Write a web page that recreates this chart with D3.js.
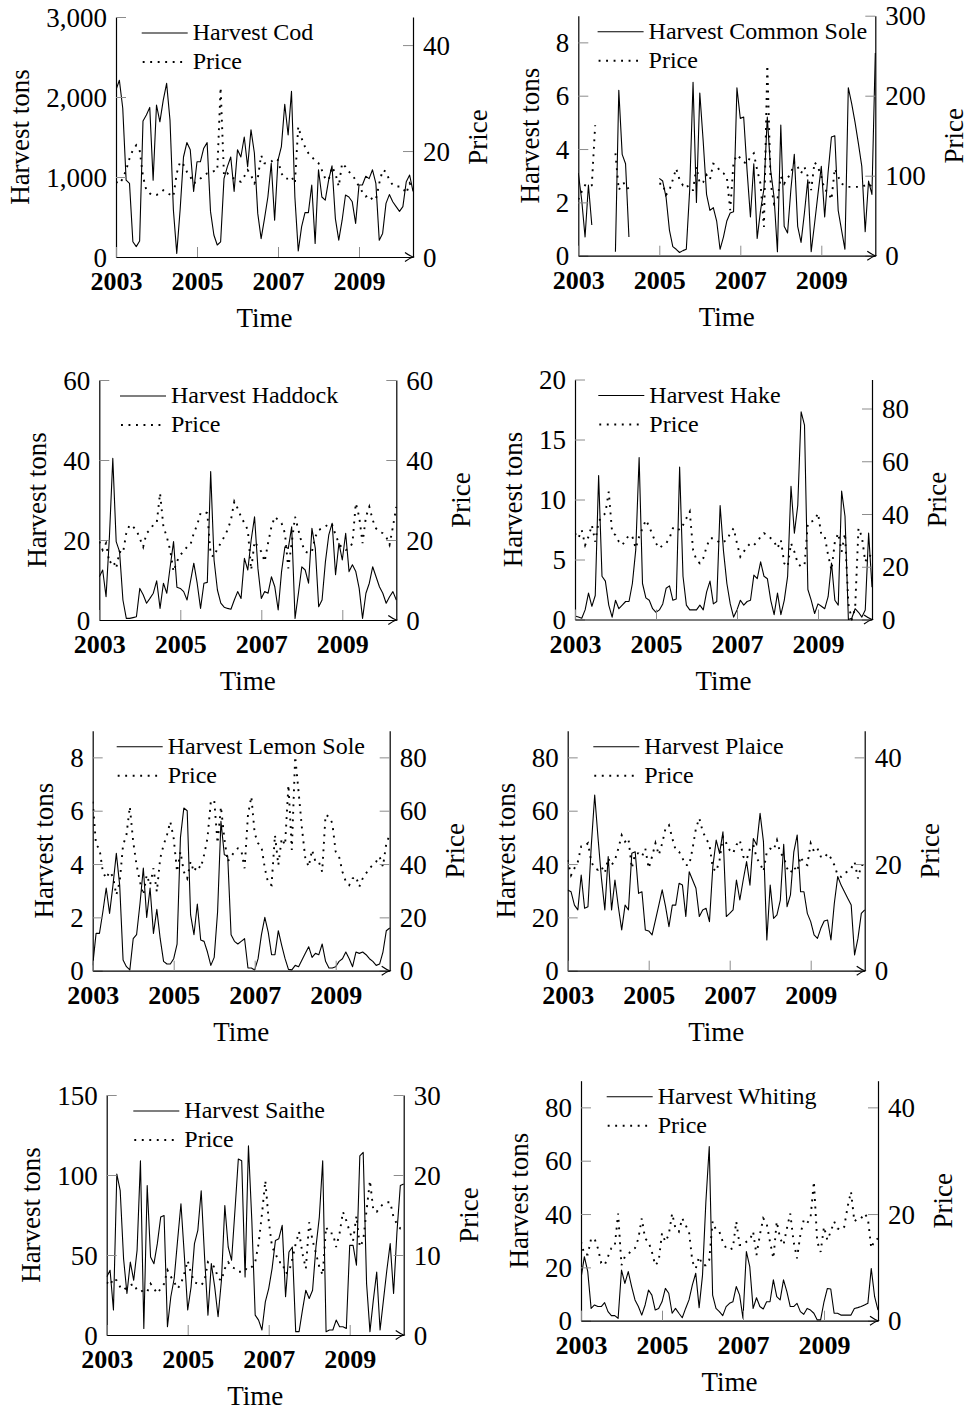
<!DOCTYPE html>
<html>
<head>
<meta charset="utf-8">
<script src="https://cdn.jsdelivr.net/npm/d3@7"></script>
<style>
body { margin: 0; background: #fff; }
text { font-family: "Liberation Serif", serif; }
</style>
</head>
<body>
<div class="chart"></div>
<script>
const width = 964
const height = 1408

// monthly series, Jan 2003 onwards
const startYear = 2003
const yearTicks = [2003, 2005, 2007, 2009]

const codHarvest = [2090, 2210, 1860, 960, 920, 190, 130, 200, 1700, 1775,
    1870, 960, 1900, 1690, 1960, 2170, 1710, 590, 45, 590,
    1250, 1430, 1340, 820, 1190, 1190, 1360, 1430, 570, 275,
    150, 190, 980, 1130, 1250, 820, 1340, 1250, 1500, 1130,
    1590, 1300, 545, 230, 480, 750, 1170, 460, 1210, 1380,
    1910, 1525, 2070, 750, 75, 380, 555, 555, 900, 170,
    1090, 750, 710, 960, 1140, 480, 210, 460, 775, 750,
    690, 420, 900, 900, 1010, 980, 1090, 920, 210, 295,
    670, 780, 690, 630, 570, 630, 940, 1025, 820]
const codPrice = [14.2, 13.8, 14.8, 16.4, 18.6, 20.2, 21.1, 20.2, 15.2, 12.6,
    12.0, 11.6, 11.7, 12.1, 12.6, 12.1, 11.8, 11.4, 15.8, 18.0,
    17.4, 16.1, 15.2, 13.9, 14.2, 14.8, 15.3, 15.8, 16.0, 16.2,
    16.3, 32.0, 15.3, 15.8, 15.2, 14.8, 14.5, 14.2, 15.2, 16.4,
    15.5, 13.9, 14.8, 19.2, 17.7, 17.7, 18.0, 18.6, 18.3, 15.8,
    14.8, 14.8, 15.2, 13.9, 24.6, 22.4, 20.8, 19.6, 18.9, 18.2,
    17.7, 16.4, 14.8, 14.5, 17.0, 15.8, 13.3, 17.7, 17.0, 16.1,
    15.5, 14.5, 13.3, 12.3, 11.4, 11.7, 10.8, 10.8, 13.9, 16.4,
    16.1, 14.5, 13.6, 13.3, 13.3, 13.0, 12.0, 13.9, 13.0]

const soleHarvest = [3.1, 2.1, 0.7, 2.65, 1.15, null, null, null, null, null,
    null, 0.15, 6.2, 3.8, 3.45, 0.7, null, null, null, null,
    null, null, null, null, 2.9, 2.8, 2.2, 0.96, 0.34, 0.24,
    0.12, 0.19, 0.24, 2.46, 6.5, 2.0, 6.1, 4.3, 2.3, 1.7,
    1.8, 1.3, 0.24, 0.7, 1.3, 1.6, 1.65, 6.3, 5.15, 5.2,
    3.2, 1.45, 3.45, 0.65, 1.7, 2.5, 5.2, 3.2, 2.2, 0.15,
    4.9, 1.1, 0.85, 2.5, 3.8, 1.1, 0.5, 1.6, 2.85, 0.15,
    1.2, 2.3, 3.35, 1.45, 3.1, 4.45, 4.5, 1.7, 0.96, 0.24,
    6.3, 5.7, 5.0, 4.2, 3.35, 0.9, 2.8, 2.3, 7.6]
const solePrice = [70, 80, 88, 86, 88, 163, null, null, null, null,
    null, 128, 82, 90, 91, 82, null, null, null, null,
    null, null, null, null, 90, 90, 76, 82, 95, 109,
    95, 88, 90, 82, 82, 111, 90, 92, 101, 95,
    115, 113, 105, 103, 99, 57, 117, 126, 122, 117,
    115, 124, 128, 107, 90, 36, 238, 90, 65, 70,
    99, 90, 97, 103, 117, 111, 103, 111, 99, 82,
    117, 111, 99, 82, 80, 70, 109, 99, 90, 88,
    86, 86, 86, 86, 86, 88, 90, 86, 86]

const haddockHarvest = [10.8, 12.5, 5.8, 20.8, 40.4, 19.6, 17.1, 5.0, 0.4, 0.4,
    0.6, 0.8, 7.9, 6.3, 4.2, 5.4, 6.7, 9.8, 2.9, 9.2,
    6.7, 13.3, 19.6, 8.2, 7.9, 7.1, 5.0, 9.6, 14.2, 9.2,
    2.9, 9.2, 9.4, 37.1, 15.0, 7.5, 4.2, 3.2, 2.9, 2.7,
    5.0, 7.1, 5.4, 15.4, 12.5, 20.0, 25.8, 12.9, 5.4, 7.1,
    6.7, 10.8, 8.3, 2.5, 12.1, 18.3, 17.9, 23.3, 0.4, 6.7,
    13.3, 12.5, 9.2, 22.9, 17.9, 3.3, 5.0, 14.6, 21.3, 24.2,
    11.3, 19.2, 15.0, 21.7, 12.1, 13.8, 12.1, 7.9, 0.4, 6.7,
    9.2, 13.3, 10.8, 8.3, 6.7, 4.2, 5.8, 7.1, 5.0]
const haddockPrice = [19.6, 17.5, 19.2, 14.2, 15.0, 12.9, 17.1, 16.7, 21.7, 23.8,
    23.3, 22.5, 20.4, 18.3, 21.7, 22.5, 23.8, 24.2, 31.7, 23.3,
    20.8, 17.5, 12.1, 14.6, 16.3, 17.1, 18.3, 18.8, 21.7, 23.8,
    26.7, 27.1, 26.7, 16.3, 15.8, 17.9, 19.2, 20.8, 22.5, 25.0,
    29.6, 27.9, 25.8, 24.2, 22.5, 12.5, 19.6, 18.3, 17.1, 14.6,
    19.2, 23.3, 25.8, 25.0, 24.2, 21.7, 12.9, 19.2, 25.8, 22.5,
    19.2, 17.1, 16.7, 17.1, 20.8, 22.5, 22.9, 23.3, 24.2, 23.8,
    21.3, 19.2, 17.9, 17.5, 17.9, 19.2, 29.2, 25.8, 19.2, 25.8,
    28.3, 25.0, 22.9, 22.1, 21.7, 20.8, 18.8, 23.3, 28.3]

const hakeHarvest = [0.3, 0.2, 0.1, 0.8, 2.2, 1.1, 2.0, 12.0, 3.6, 3.2,
    1.2, 0.2, 1.6, 0.9, 1.2, 1.5, 1.5, 3.0, 5.8, 13.5,
    3.0, 1.8, 1.6, 0.9, 0.6, 0.8, 1.3, 2.6, 2.8, 1.6,
    1.7, 12.7, 3.6, 1.2, 0.8, 0.8, 0.8, 1.2, 0.8, 2.3,
    3.2, 1.3, 1.5, 9.5, 5.7, 3.0, 1.3, 0.2, 0.8, 1.6,
    1.2, 1.5, 1.6, 3.7, 3.4, 4.8, 3.6, 3.4, 1.6, 0.4,
    2.2, 0.4, 1.6, 3.6, 11.1, 7.2, 9.5, 17.3, 16.2, 2.5,
    1.6, 0.5, 1.3, 1.1, 0.9, 1.9, 4.7, 1.6, 1.2, 10.7,
    8.6, 0.0, 0.1, 0.9, 0.6, 0.2, 0.8, 7.2, 2.7]
const hakePrice = [32.7, 30.8, 33.9, 28.2, 31.4, 35.8, 29.5, 37.1, 39.0, 40.3,
    48.5, 33.0, 32.0, 29.5, 28.2, 30.1, 32.0, 31.4, 27.0, 31.4,
    34.6, 37.7, 35.2, 32.0, 28.9, 27.0, 28.2, 28.9, 30.8, 34.6,
    35.2, 33.9, 35.8, 38.4, 40.9, 26.3, 22.5, 21.3, 23.2, 27.6,
    30.8, 30.8, 30.1, 28.9, 29.5, 30.1, 32.7, 34.6, 28.9, 23.8,
    25.7, 27.6, 28.9, 28.2, 29.5, 31.4, 32.7, 32.0, 30.8, 29.5,
    27.0, 30.1, 21.3, 20.0, 28.9, 25.7, 21.3, 20.0, 20.6, 36.5,
    37.1, 37.7, 40.3, 32.0, 31.4, 24.4, 18.7, 29.5, 32.7, 25.7,
    32.7, 6.0, 0.0, 4.2, 34.6, 31.4, 21.9, 24.4, 23.8]

const lemonHarvest = [0.2, 1.4, 1.4, 2.2, 3.1, 2.15, 3.2, 4.4, 3.2, 0.4,
    0.15, 0.03, 1.2, 1.35, 2.5, 3.85, 2.0, 3.1, 1.4, 2.3,
    1.2, 0.35, 0.25, 0.25, 0.45, 1.0, 5.0, 6.1, 6.0, 2.1,
    1.35, 2.5, 1.15, 1.1, 0.7, 0.2, 0.5, 2.2, 5.6, 4.35,
    4.3, 1.35, 1.1, 1.0, 1.1, 1.2, 0.1, 0.1, 0.03, 0.45,
    1.35, 2.0, 1.45, 0.6, 0.6, 1.5, 0.95, 0.45, 0.05, 0.03,
    0.2, 0.15, 0.4, 0.65, 0.9, 0.5, 0.65, 0.6, 1.0, 0.35,
    0.1, 0.1, 0.15, 0.35, 0.45, 0.7, 0.45, 0.15, 0.7, 0.65,
    0.7, 0.6, 0.45, 0.35, 0.2, 0.25, 0.7, 1.5, 1.6]
const lemonPrice = [63.4, 47.1, 45.9, 37.1, 34.6, 37.1, 35.3, 28.4, 33.4, 47.1,
    50.9, 61.5, 48.4, 39.6, 33.4, 28.4, 35.9, 32.1, 38.4, 29.6,
    42.1, 47.1, 50.9, 55.9, 49.6, 37.1, 44.6, 37.1, 34.6, 40.9,
    37.1, 39.6, 38.4, 43.4, 49.6, 63.4, 64.0, 47.8, 61.5, 49.6,
    40.9, 42.8, 44.6, 45.9, 45.3, 38.4, 58.4, 65.3, 51.5, 47.8,
    46.5, 38.4, 32.8, 32.1, 50.9, 39.6, 49.6, 47.1, 69.6, 45.3,
    80.3, 67.1, 53.4, 42.1, 39.0, 45.3, 40.9, 40.9, 37.1, 58.4,
    57.8, 55.3, 44.6, 42.8, 37.1, 33.4, 32.1, 34.6, 35.3, 31.5,
    34.6, 36.5, 38.4, 39.6, 40.9, 42.8, 39.0, 47.8, 50.9]

const plaiceHarvest = [30.3, 29.6, 24.6, 22.8, 35.9, 23.4, 24.0, 47.1, 65.9, 49.6,
    34.6, 22.8, 42.8, 22.8, 34.0, 24.0, 15.3, 24.6, 22.8, 44.0,
    44.6, 29.0, 29.6, 15.3, 14.9, 13.4, 19.0, 24.6, 30.3, 24.0,
    16.5, 24.6, 24.6, 32.8, 32.1, 20.3, 37.1, 34.0, 30.9, 20.3,
    22.8, 23.4, 18.4, 39.0, 49.0, 44.0, 52.1, 20.3, 21.5, 22.8,
    34.0, 26.5, 34.0, 40.9, 32.1, 49.6, 47.1, 59.0, 48.4, 11.5,
    32.1, 19.6, 20.9, 26.5, 47.4, 24.0, 28.4, 44.6, 50.9, 29.6,
    29.6, 21.5, 18.4, 13.4, 12.1, 15.9, 18.6, 19.0, 11.5, 25.3,
    35.3, 32.1, 29.6, 27.1, 24.6, 5.9, 12.1, 21.5, 22.8]
const plaicePrice = [20.75, 17.9, 19.2, 20.4, 23.3, 23.3, 23.9, 20.4, 19.2, 18.9,
    19.5, 18.3, 21.1, 19.8, 20.75, 22.9, 25.4, 24.2, 24.8, 19.2,
    22.0, 22.0, 21.4, 22.9, 19.2, 21.4, 23.9, 21.7, 23.9, 26.7,
    27.3, 24.8, 22.6, 22.3, 21.1, 19.8, 19.8, 22.9, 26.7, 28.6,
    26.1, 24.8, 23.6, 19.2, 18.6, 20.75, 25.1, 23.9, 22.6, 22.0,
    23.6, 24.5, 21.4, 20.75, 22.9, 23.6, 21.1, 20.1, 18.6, 22.3,
    22.9, 22.6, 24.5, 22.0, 21.4, 19.2, 18.3, 19.5, 18.6, 21.4,
    20.1, 19.8, 23.9, 22.3, 22.9, 21.4, 21.1, 22.0, 21.1, 19.8,
    17.9, 17.6, 18.3, 18.6, 19.2, 20.4, 17.3, 19.8, 19.8]

const saitheHarvest = [36.3, 40.5, 15.6, 100.6, 90.2, 47.7, 25.9, 45.6, 34.2, 52.9,
    108.9, 4.1, 93.4, 48.8, 44.6, 57.1, 73.7, 74.7, 5.2, 23.9,
    35.3, 59.1, 82.0, 49.8, 15.6, 30.1, 57.1, 65.4, 90.2, 48.8,
    12.4, 44.6, 30.1, 11.4, 34.2, 80.9, 55.0, 46.7, 77.8, 110.0,
    108.9, 36.3, 118.3, 71.6, 12.4, 9.3, 3.1, 20.7, 29.0, 41.5,
    59.1, 60.2, 68.5, 23.9, 51.9, 55.0, 2.1, 2.1, 15.6, 28.0,
    22.8, 28.0, 55.0, 73.7, 108.9, 2.1, 3.1, 3.1, 9.3, 5.2,
    5.2, 4.1, 56.0, 56.0, 43.6, 112.0, 114.1, 32.2, 2.1, 21.8,
    39.4, 3.1, 21.8, 40.5, 57.1, 25.9, 64.3, 93.4, 94.4]
const saithePrice = [6.6, 6.2, 7.1, 6.8, 6.0, 5.6, 6.0, 6.2, 6.4, 5.6,
    5.4, 5.6, 5.4, 6.4, 5.8, 5.2, 5.8, 6.4, 8.1, 7.3,
    6.6, 5.8, 6.4, 7.7, 9.3, 7.7, 6.6, 6.4, 6.2, 6.8,
    9.1, 8.7, 8.5, 7.1, 6.8, 8.3, 9.1, 8.5, 8.3, 7.9,
    7.9, 8.3, 8.1, 8.5, 9.1, 11.4, 15.1, 19.3, 14.3, 11.0,
    10.2, 9.1, 9.1, 7.7, 7.9, 9.5, 11.4, 12.9, 10.2, 8.3,
    14.1, 11.8, 10.2, 8.5, 7.5, 13.5, 12.7, 12.7, 11.0, 12.7,
    15.4, 14.3, 12.9, 11.8, 14.9, 11.0, 11.8, 15.6, 19.3, 15.6,
    15.4, 16.0, 16.4, 16.6, 16.6, 14.7, 13.9, 13.3, 13.3]

const whitingHarvest = [15.9, 24.0, 18.4, 4.6, 5.9, 5.3, 5.3, 6.8, 3.4, 1.9,
    1.9, 0.9, 19.0, 14.0, 18.4, 12.8, 7.8, 5.3, 2.1, 5.9,
    11.5, 9.6, 4.0, 4.6, 7.1, 12.1, 10.3, 2.8, 4.6, 2.8,
    1.1, 4.6, 7.8, 13.4, 17.8, 4.9, 17.0, 44.6, 65.3, 9.6,
    4.6, 3.4, 1.9, 5.3, 6.5, 7.1, 12.8, 9.6, 0.9, 25.9,
    20.3, 4.6, 8.6, 5.3, 4.4, 7.1, 7.1, 15.3, 9.0, 7.8,
    15.3, 10.9, 5.3, 5.3, 6.5, 3.4, 2.4, 4.6, 4.0, 2.8,
    0.3, 0.3, 7.1, 12.1, 11.9, 2.8, 2.8, 2.1, 2.1, 2.1,
    2.1, 4.6, 4.9, 5.3, 5.9, 6.5, 19.6, 9.0, 4.0]
const whitingPrice = [14.8, 12.4, 12.4, 15.4, 15.4, 13.6, 10.8, 10.4, 12.0, 13.6,
    13.9, 20.1, 10.4, 12.0, 12.4, 13.3, 13.6, 15.4, 19.2, 15.4,
    14.8, 12.9, 10.4, 11.1, 16.4, 14.8, 16.1, 20.1, 17.3, 16.7,
    19.2, 17.9, 16.7, 11.1, 9.8, 12.0, 10.4, 10.4, 11.4, 18.6,
    17.0, 16.7, 14.8, 13.6, 13.3, 13.6, 18.6, 14.2, 14.2, 14.8,
    15.1, 16.7, 12.3, 16.1, 19.2, 18.3, 14.8, 11.7, 18.6, 15.4,
    14.2, 17.3, 20.1, 14.8, 11.7, 16.1, 18.9, 18.3, 19.2, 26.1,
    14.8, 12.9, 17.6, 15.1, 16.7, 18.6, 17.3, 17.0, 17.6, 21.4,
    24.2, 18.6, 19.2, 19.2, 20.1, 19.2, 13.6, 15.1, 15.4]

const panels = [
    {name: "Cod", harvest: codHarvest, price: codPrice, hTicks: [0, 1000, 2000, 3000], hMax: 3000, pTicks: [0, 20, 40], pMax: 45.3},
    {name: "Common Sole", harvest: soleHarvest, price: solePrice, hTicks: [0, 2, 4, 6, 8], hMax: 9, pTicks: [0, 100, 200, 300], pMax: 300},
    {name: "Haddock", harvest: haddockHarvest, price: haddockPrice, hTicks: [0, 20, 40, 60], hMax: 60, pTicks: [0, 20, 40, 60], pMax: 60},
    {name: "Hake", harvest: hakeHarvest, price: hakePrice, hTicks: [0, 5, 10, 15, 20], hMax: 20, pTicks: [0, 20, 40, 60, 80], pMax: 91},
    {name: "Lemon Sole", harvest: lemonHarvest, price: lemonPrice, hTicks: [0, 2, 4, 6, 8], hMax: 9, pTicks: [0, 20, 40, 60, 80], pMax: 90},
    {name: "Plaice", harvest: plaiceHarvest, price: plaicePrice, hTicks: [0, 20, 40, 60, 80], hMax: 90, pTicks: [0, 20, 40], pMax: 45},
    {name: "Saithe", harvest: saitheHarvest, price: saithePrice, hTicks: [0, 50, 100, 150], hMax: 150, pTicks: [0, 10, 20, 30], pMax: 30},
    {name: "Whiting", harvest: whitingHarvest, price: whitingPrice, hTicks: [0, 20, 40, 60, 80], hMax: 90, pTicks: [0, 20, 40], pMax: 45},
]

// where each panel's plot box sits on the page
const layout = [
    {left: 116, bottom: 257, legendDx: 25.7},
    {left: 578.3, bottom: 255.7, legendDx: 19.3},
    {left: 99.3, bottom: 620, legendDx: 20.7},
    {left: 575, bottom: 619.5, legendDx: 23.3},
    {left: 92.7, bottom: 970.7, legendDx: 24},
    {left: 567.7, bottom: 970.7, legendDx: 25.6},
    {left: 106.7, bottom: 1335, legendDx: 26.6},
    {left: 581, bottom: 1320.7, legendDx: 25.7},
]

const plotW = 297
const plotH = 240
const tickGray = "#8c8c8c"
const labelSize = 27

const svg = d3.select(".chart")
    .append("svg")
    .attr("width", width)
    .attr("height", height)

panels.forEach((p, i) => {
    const box = layout[i]
    const L = box.left, B = box.bottom, R = L + plotW, T = B - plotH

    const months = p.harvest.map((d, j) => startYear + j / 12)
    const xScale = d3.scaleLinear()
        .domain([startYear, months[months.length - 1]])
        .range([L, R])
    const yLeft = d3.scaleLinear().domain([0, p.hMax]).range([B, T])
    const yRight = d3.scaleLinear().domain([0, p.pMax]).range([B, T])

    const g = svg.append("g").attr("class", "panel")

    g.append("clipPath")
        .attr("id", "clip" + i)
        .append("rect")
        .attr("x", L).attr("y", T - 1)
        .attr("width", plotW + 1).attr("height", plotH + 2)

    //Lines
    const harvestLine = d3.line()
        .defined(d => d != null)
        .x((d, j) => xScale(months[j]))
        .y(d => yLeft(d))
    const priceLine = d3.line()
        .defined(d => d != null)
        .x((d, j) => xScale(months[j]))
        .y(d => yRight(d))

    const lines = g.append("g").attr("clip-path", `url(#clip${i})`)
    lines.append("path")
        .attr("d", priceLine(p.price))
        .attr("fill", "none")
        .attr("stroke", "#000")
        .attr("stroke-width", 1.9)
        .attr("stroke-dasharray", "1.9 5.6")
    lines.append("path")
        .attr("d", harvestLine(p.harvest))
        .attr("fill", "none")
        .attr("stroke", "#000")
        .attr("stroke-width", 1.1)
        .attr("stroke-linejoin", "round")

    //Axes
    const styleAxis = (ax, size, weight) => {
        ax.attr("font-family", "Liberation Serif, serif").attr("font-size", size)
        ax.select(".domain").attr("stroke", "#000").attr("stroke-width", 1.2)
        ax.selectAll(".tick line").attr("stroke", tickGray).attr("stroke-width", 1)
        ax.selectAll(".tick text").attr("fill", "#000").attr("font-weight", weight)
    }

    const fmt = p.hMax >= 1000 ? d3.format(",") : d3.format("d")
    const leftAxis = g.append("g")
        .attr("transform", `translate(${L},0)`)
        .call(d3.axisLeft(yLeft).tickValues(p.hTicks).tickFormat(fmt)
            .tickSizeInner(-10).tickSizeOuter(0).tickPadding(9))
    styleAxis(leftAxis, labelSize, "normal")
    leftAxis.selectAll(".tick text").attr("dy", "0.34em")

    const rightAxis = g.append("g")
        .attr("transform", `translate(${R},0)`)
        .call(d3.axisRight(yRight).tickValues(p.pTicks).tickFormat(d3.format("d"))
            .tickSizeInner(-10).tickSizeOuter(0).tickPadding(10))
    styleAxis(rightAxis, labelSize, "normal")
    rightAxis.selectAll(".tick text").attr("dy", "0.34em")

    const bottomAxis = g.append("g")
        .attr("transform", `translate(0,${B})`)
        .call(d3.axisBottom(xScale).tickValues(yearTicks).tickFormat(d3.format("d"))
            .tickSizeInner(-10).tickSizeOuter(0).tickPadding(15))
    styleAxis(bottomAxis, 26, "bold")

    // arrow head at the end of the time axis
    g.append("path")
        .attr("d", `M${R - 8},${B - 4.5} Q${R - 3},${B - 1} ${R},${B} Q${R - 3},${B + 1} ${R - 8},${B + 4.5}`)
        .attr("fill", "none")
        .attr("stroke", "#000")
        .attr("stroke-width", 1.2)

    //Axis titles, placed beside the widest tick label
    const leftMin = d3.min(leftAxis.selectAll(".tick text").nodes(), n => n.getBBox().x)
    g.append("text")
        .attr("transform", `translate(${L + leftMin - 17},${(T + B) / 2}) rotate(-90)`)
        .attr("text-anchor", "middle")
        .style("font-size", labelSize + "px")
        .text("Harvest tons")

    const rightMax = d3.max(rightAxis.selectAll(".tick text").nodes(), n => {
        const b = n.getBBox()
        return b.x + b.width
    })
    g.append("text")
        .attr("transform", `translate(${R + rightMax + 37},${(T + B) / 2}) rotate(-90)`)
        .attr("text-anchor", "middle")
        .style("font-size", labelSize + "px")
        .text("Price")

    g.append("text")
        .attr("x", (L + R) / 2)
        .attr("y", B + 70)
        .attr("text-anchor", "middle")
        .style("font-size", labelSize + "px")
        .text("Time")

    //Legend
    const lx = L + box.legendDx
    const legend = g.append("g")
    legend.append("line")
        .attr("x1", lx).attr("x2", lx + 46)
        .attr("y1", T + 16).attr("y2", T + 16)
        .attr("stroke", "#000").attr("stroke-width", 1.1)
    legend.append("line")
        .attr("x1", lx + 1).attr("x2", lx + 46)
        .attr("y1", T + 45).attr("y2", T + 45)
        .attr("stroke", "#000").attr("stroke-width", 1.9)
        .attr("stroke-dasharray", "1.9 5.6")
    legend.append("text")
        .attr("x", lx + 51).attr("y", T + 23)
        .style("font-size", "24px")
        .text("Harvest " + p.name)
    legend.append("text")
        .attr("x", lx + 51).attr("y", T + 52)
        .style("font-size", "24px")
        .text("Price")
})
</script>
</body>
</html>
